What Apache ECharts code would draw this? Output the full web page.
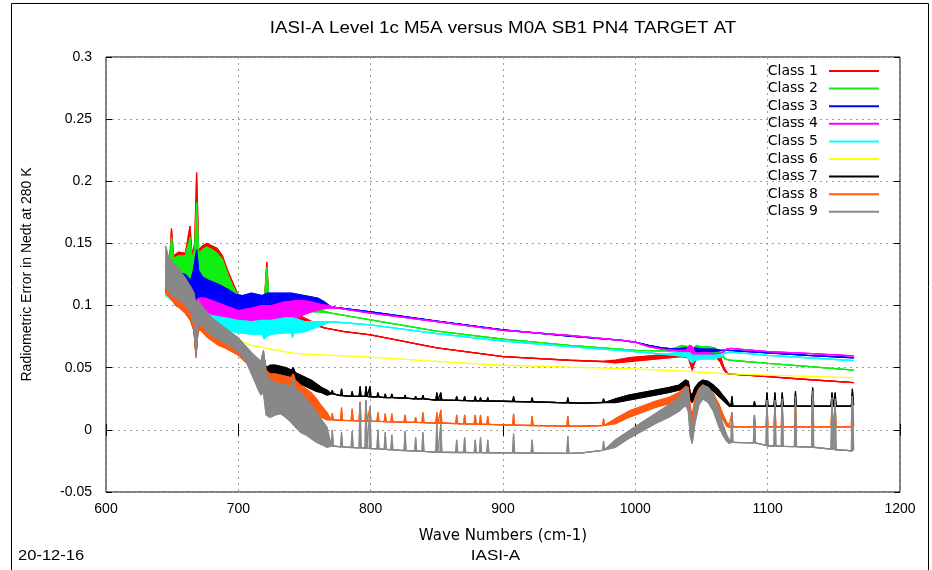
<!DOCTYPE html>
<html><head><meta charset="utf-8">
<script src="https://cdn.jsdelivr.net/npm/echarts@6/dist/echarts.min.js"></script>
<style>html,body{margin:0;padding:0;background:#fff;}#chart{width:932px;height:570px;}</style>
</head><body><div id="chart"></div>
<script>
const classNames = ['Class 1','Class 2','Class 3','Class 4','Class 5','Class 6','Class 7','Class 8','Class 9'];
const colors = ['#ff0000','#11ee11','#0000ff','#ff00ff','#00ffff','#ffff00','#000000','#ff5a10','#888888'];
const xTickValues = [600,700,800,900,1000,1100,1200];

// Class 1 (lower / upper edge of the noisy band)
const wn1 = [645,648,649.5,651,655,660,663.5,665,667,668.5,670,673,676,680,684,688,692,696,700,705,710,715,720,721.5,723,730,740,746,752,758,765,770,780,800,850,900,950,975,985,995,1005,1015,1025,1035,1040,1043,1046,1050,1055,1060,1064,1067,1070,1100,1130,1165];
const lo1 = [0.115,0.118,0.12,0.12,0.12,0.118,0.12,0.118,0.115,0.11,0.115,0.115,0.115,0.112,0.11,0.108,0.105,0.102,0.1,0.1,0.1,0.098,0.098,0.098,0.098,0.095,0.092,0.088,0.086,0.084,0.082,0.081,0.079,0.0764,0.066,0.059,0.056,0.055,0.054,0.055,0.056,0.057,0.058,0.059,0.058,0.048,0.058,0.06,0.06,0.059,0.055,0.048,0.045,0.0428,0.0405,0.038];
const hi1 = [0.13,0.135,0.162,0.14,0.143,0.142,0.164,0.14,0.15,0.207,0.145,0.148,0.15,0.148,0.146,0.14,0.128,0.118,0.108,0.106,0.105,0.105,0.108,0.135,0.106,0.104,0.1,0.092,0.089,0.086,0.082,0.081,0.079,0.0764,0.066,0.059,0.056,0.055,0.056,0.058,0.059,0.06,0.061,0.062,0.062,0.057,0.063,0.065,0.065,0.064,0.06,0.05,0.045,0.0428,0.0405,0.038];

// Class 2
const wn2 = [645,648,649.5,651,655,660,663.5,665,667,668.5,670,673,676,680,684,688,692,696,700,705,710,715,720,721.5,723,730,740,750,758,765,770,800,850,900,950,1000,1020,1030,1035,1040,1043,1046,1050,1055,1060,1064,1068,1072,1100,1130,1165];
const lo2 = [0.112,0.118,0.12,0.12,0.122,0.12,0.12,0.118,0.115,0.11,0.112,0.112,0.11,0.108,0.106,0.104,0.102,0.1,0.098,0.098,0.1,0.1,0.1,0.098,0.1,0.098,0.096,0.095,0.095,0.0945,0.094,0.0885,0.0795,0.073,0.068,0.064,0.0635,0.063,0.063,0.062,0.06,0.063,0.063,0.063,0.062,0.06,0.057,0.056,0.0535,0.051,0.048];
const hi2 = [0.128,0.135,0.155,0.138,0.14,0.14,0.155,0.138,0.145,0.183,0.142,0.145,0.147,0.145,0.142,0.137,0.125,0.115,0.107,0.106,0.107,0.108,0.108,0.131,0.107,0.106,0.104,0.1,0.097,0.0955,0.094,0.0885,0.0795,0.073,0.068,0.064,0.0635,0.066,0.068,0.067,0.064,0.068,0.067,0.067,0.066,0.063,0.057,0.056,0.0535,0.051,0.048];

// Class 3
const wn3 = [645,650,655,660,664,666,668.5,670,673,678,685,692,698,703,710,718,722,730,740,750,760,765,770,800,850,900,950,990,1000,1010,1020,1030,1038,1041,1043,1045,1050,1055,1060,1065,1070,1100,1130,1165];
const lo3 = [0.11,0.115,0.115,0.113,0.108,0.1,0.1,0.1,0.1,0.1,0.099,0.097,0.095,0.095,0.094,0.094,0.095,0.096,0.097,0.098,0.099,0.1,0.099,0.095,0.0875,0.0805,0.0755,0.072,0.0705,0.068,0.066,0.065,0.064,0.062,0.06,0.062,0.063,0.063,0.063,0.064,0.064,0.062,0.06,0.058];
const hi3 = [0.125,0.125,0.127,0.125,0.12,0.128,0.145,0.128,0.123,0.12,0.117,0.113,0.109,0.108,0.11,0.108,0.11,0.11,0.11,0.108,0.106,0.103,0.099,0.095,0.0875,0.0805,0.0755,0.072,0.0705,0.068,0.066,0.065,0.066,0.066,0.065,0.066,0.065,0.065,0.065,0.064,0.064,0.062,0.06,0.058];

// Class 4
const wn4 = [645,650,655,660,664,666,668.5,670,675,680,690,700,710,718,719.5,721,725,735,745,750,755,762,768,775,800,850,900,950,990,1000,1010,1020,1030,1038,1041,1043,1045,1050,1055,1060,1065,1069,1072,1100,1130,1165];
const lo4 = [0.112,0.11,0.108,0.102,0.098,0.095,0.092,0.095,0.094,0.092,0.09,0.087,0.087,0.088,0.075,0.08,0.088,0.088,0.09,0.093,0.095,0.097,0.098,0.098,0.094,0.087,0.08,0.076,0.072,0.0705,0.067,0.065,0.064,0.062,0.062,0.058,0.058,0.059,0.059,0.059,0.06,0.065,0.0655,0.063,0.0615,0.0595];
const hi4 = [0.122,0.118,0.115,0.112,0.11,0.105,0.104,0.106,0.106,0.104,0.1,0.096,0.098,0.1,0.1,0.1,0.1,0.103,0.104,0.104,0.103,0.101,0.1,0.098,0.094,0.087,0.08,0.076,0.072,0.0705,0.067,0.065,0.064,0.064,0.068,0.067,0.062,0.062,0.062,0.061,0.062,0.065,0.0655,0.063,0.0615,0.0595];

// Class 5
const wn5 = [645,650,655,660,665,668.5,670,675,680,690,700,710,718,719.5,721,725,735,740,741,742,750,758,765,770,800,850,900,950,1000,1010,1020,1030,1038,1041,1043,1045,1050,1055,1060,1065,1068,1072,1100,1130,1165];
const lo5 = [0.108,0.104,0.1,0.095,0.09,0.085,0.085,0.083,0.082,0.08,0.078,0.077,0.077,0.073,0.075,0.077,0.078,0.078,0.074,0.078,0.079,0.082,0.085,0.087,0.0845,0.0775,0.0715,0.067,0.063,0.062,0.061,0.06,0.059,0.056,0.054,0.056,0.057,0.057,0.057,0.059,0.062,0.0625,0.06,0.058,0.0557];
const hi5 = [0.118,0.114,0.11,0.105,0.1,0.1,0.097,0.094,0.092,0.09,0.088,0.087,0.088,0.088,0.088,0.088,0.09,0.09,0.09,0.09,0.087,0.087,0.087,0.087,0.0845,0.0775,0.0715,0.067,0.063,0.062,0.061,0.062,0.062,0.062,0.06,0.06,0.06,0.06,0.06,0.061,0.062,0.0625,0.06,0.058,0.0557];

// Class 6 (smooth)
const wn6 = [645,648,652,656,660,665,670,675,680,690,700,710,720,730,740,750,760,780,800,840,900,950,1000,1040,1070,1100,1130,1165];
const v6 = [0.12,0.116,0.11,0.105,0.1,0.093,0.086,0.083,0.08,0.076,0.072,0.068,0.066,0.064,0.062,0.061,0.0605,0.0595,0.0586,0.0557,0.052,0.0505,0.049,0.047,0.045,0.044,0.043,0.042];

// Classes 7-9 share one wave-number grid (absorption-line spikes)
const wnB = [645,647,650,653,656,660,664,666.5,668,669.5,672,676,680,685,690,695,700,705,710,714,717,719,721,724,728,732,736,740,741.5,743,747,751,755,759,763,767,
770.2,771,771.8,777.2,778,778.8,785.2,786,786.8,791.2,792,792.8,795.7,796.5,797.3,798.7,799.5,800.3,804.7,805.5,806.3,810.2,811,811.8,
815.2,816,816.8,825.2,826,826.8,833.2,834,834.8,838.7,839.5,840.3,849.2,850,850.8,852.2,853,853.8,864.2,865,865.8,870.2,871,871.8,
878.2,879,879.8,882.2,883,883.8,887.7,888.5,889.3,900,907.2,908,908.8,921.2,922,922.8,940,948.2,949,949.8,960,975.2,976,976.8,
985,995,1005,1015,1025,1033,1038,1040,1041.5,1043,1045,1048,1051,1055,1059,1063,1066,1069,1071,
1072.2,1073,1073.8,1080,1089.2,1090,1090.8,1098.7,1099.5,1100.3,1104.7,1105.5,1106.3,1110.2,1111,1111.8,1120.2,1121,1121.8,
1133.2,1134,1134.8,1147.8,1148.6,1149.4,1150.2,1151,1151.8,1160,1163.2,1164,1165];

const hi7 = [0.125,0.122,0.12,0.118,0.115,0.11,0.105,0.1,0.09,0.095,0.092,0.09,0.086,0.082,0.078,0.074,0.07,0.064,0.06,0.057,0.053,0.06,0.05,0.052,0.052,0.051,0.05,0.048,0.05,0.046,0.044,0.042,0.04,0.037,0.034,0.032,
0.029,0.032,0.029,0.0275,0.033,0.0275,0.027,0.031,0.027,0.027,0.035,0.027,0.027,0.035,0.027,0.0265,0.035,0.0265,0.0265,0.03,0.0265,0.026,0.029,0.026,
0.026,0.029,0.026,0.0255,0.028,0.0255,0.025,0.027,0.025,0.025,0.028,0.025,0.024,0.03,0.024,0.024,0.03,0.024,0.0238,0.027,0.0238,0.0236,0.027,0.0236,
0.0234,0.027,0.0234,0.0233,0.026,0.0233,0.0232,0.026,0.0232,0.023,0.0228,0.027,0.0228,0.0225,0.026,0.0225,0.022,0.0218,0.026,0.0218,0.0215,0.022,0.025,0.022,
0.025,0.028,0.03,0.032,0.034,0.036,0.04,0.039,0.03,0.028,0.034,0.038,0.04,0.039,0.036,0.032,0.028,0.024,0.021,
0.019,0.027,0.019,0.019,0.019,0.023,0.019,0.019,0.03,0.019,0.019,0.03,0.019,0.019,0.03,0.019,0.019,0.031,0.019,
0.019,0.034,0.019,0.019,0.03,0.019,0.019,0.03,0.019,0.019,0.019,0.033,0.02];
const lo7 = [0.112,0.108,0.105,0.1,0.098,0.094,0.088,0.08,0.06,0.08,0.08,0.076,0.072,0.07,0.067,0.064,0.061,0.057,0.055,0.051,0.047,0.045,0.045,0.045,0.045,0.044,0.043,0.041,0.04,0.039,0.037,0.035,0.033,0.031,0.03,0.028,
0.029,0.029,0.029,0.0275,0.0275,0.0275,0.027,0.027,0.027,0.027,0.027,0.027,0.027,0.027,0.027,0.0265,0.0265,0.0265,0.0265,0.0265,0.0265,0.026,0.026,0.026,
0.026,0.026,0.026,0.0255,0.0255,0.0255,0.025,0.025,0.025,0.025,0.025,0.025,0.024,0.024,0.024,0.024,0.024,0.024,0.0238,0.0238,0.0238,0.0236,0.0236,0.0236,
0.0234,0.0234,0.0234,0.0233,0.0233,0.0233,0.0232,0.0232,0.0232,0.023,0.0228,0.0228,0.0228,0.0225,0.0225,0.0225,0.022,0.0218,0.0218,0.0218,0.0215,0.022,0.022,0.022,
0.022,0.024,0.026,0.028,0.03,0.032,0.034,0.033,0.024,0.022,0.028,0.033,0.035,0.034,0.031,0.027,0.024,0.021,0.019,
0.019,0.019,0.019,0.019,0.019,0.019,0.019,0.019,0.019,0.019,0.019,0.019,0.019,0.019,0.019,0.019,0.019,0.019,0.019,
0.019,0.019,0.019,0.019,0.019,0.019,0.019,0.019,0.019,0.019,0.019,0.019,0.02];

const hi8 = [0.132,0.128,0.125,0.122,0.12,0.115,0.108,0.104,0.095,0.1,0.096,0.092,0.088,0.084,0.08,0.076,0.072,0.066,0.06,0.056,0.053,0.062,0.048,0.045,0.045,0.044,0.043,0.042,0.045,0.04,0.036,0.033,0.03,0.025,0.019,0.014,
0.008,0.0135,0.008,0.0077,0.018,0.0077,0.0074,0.017,0.0074,0.0072,0.0225,0.0072,0.0071,0.0225,0.0071,0.007,0.018,0.007,0.0068,0.014,0.0068,0.0066,0.013,0.0066,
0.0065,0.013,0.0065,0.0062,0.012,0.0062,0.006,0.01,0.006,0.0058,0.014,0.0058,0.0055,0.014,0.0055,0.0055,0.016,0.0055,0.005,0.012,0.005,0.0048,0.012,0.0048,
0.0046,0.012,0.0046,0.0045,0.012,0.0045,0.0044,0.011,0.0044,0.004,0.0038,0.013,0.0038,0.0035,0.011,0.0035,0.0032,0.003,0.011,0.003,0.003,0.0035,0.009,0.0037,
0.009,0.015,0.019,0.023,0.026,0.03,0.035,0.034,0.019,0.011,0.025,0.033,0.036,0.034,0.029,0.021,0.013,0.006,0.004,
0.0025,0.014,0.0025,0.0025,0.0025,0.012,0.0025,0.0025,0.02,0.0025,0.0025,0.02,0.0025,0.0025,0.02,0.0025,0.0025,0.021,0.0025,
0.0025,0.027,0.0025,0.0025,0.02,0.0025,0.0025,0.02,0.0025,0.0025,0.0025,0.027,0.003];
const lo8 = [0.11,0.108,0.104,0.1,0.098,0.094,0.088,0.08,0.058,0.08,0.08,0.075,0.072,0.068,0.066,0.063,0.06,0.055,0.05,0.044,0.04,0.04,0.035,0.034,0.033,0.032,0.031,0.028,0.028,0.026,0.026,0.022,0.019,0.014,0.01,0.008,
0.008,0.008,0.008,0.0077,0.0077,0.0077,0.0074,0.0074,0.0074,0.0072,0.0072,0.0072,0.0071,0.0071,0.0071,0.007,0.007,0.007,0.0068,0.0068,0.0068,0.0066,0.0066,0.0066,
0.0065,0.0065,0.0065,0.0062,0.0062,0.0062,0.006,0.006,0.006,0.0058,0.0058,0.0058,0.0055,0.0055,0.0055,0.0055,0.0055,0.0055,0.005,0.005,0.005,0.0048,0.0048,0.0048,
0.0046,0.0046,0.0046,0.0045,0.0045,0.0045,0.0044,0.0044,0.0044,0.004,0.0038,0.0038,0.0038,0.0035,0.0035,0.0035,0.0032,0.003,0.003,0.003,0.003,0.0035,0.0036,0.0037,
0.005,0.01,0.014,0.018,0.021,0.025,0.029,0.027,0.009,0.002,0.017,0.027,0.031,0.029,0.023,0.016,0.009,0.003,0.002,
0.0025,0.0025,0.0025,0.0025,0.0025,0.0025,0.0025,0.0025,0.0025,0.0025,0.0025,0.0025,0.0025,0.0025,0.0025,0.0025,0.0025,0.0025,0.0025,
0.0025,0.0025,0.0025,0.0025,0.0025,0.0025,0.0025,0.0025,0.0025,0.0025,0.0025,0.0025,0.003];

const hi9 = [0.148,0.14,0.135,0.132,0.128,0.122,0.115,0.11,0.1,0.105,0.1,0.095,0.09,0.086,0.082,0.078,0.074,0.068,0.062,0.058,0.055,0.064,0.045,0.04,0.038,0.037,0.036,0.035,0.042,0.033,0.03,0.025,0.02,0.014,0.008,0.002,
-0.013,0.0,-0.013,-0.0137,-0.002,-0.0137,-0.0142,-0.001,-0.0142,-0.0145,0.022,-0.0145,-0.0147,0.024,-0.0147,-0.015,0.019,-0.015,-0.0153,0.0,-0.0153,-0.0157,-0.002,-0.0157,
-0.016,-0.004,-0.016,-0.0167,-0.001,-0.0167,-0.017,-0.006,-0.017,-0.0173,-0.002,-0.0173,-0.018,0.005,-0.018,-0.018,0.005,-0.018,-0.0182,-0.008,-0.0182,-0.0182,-0.006,-0.0182,
-0.0183,-0.008,-0.0183,-0.0183,-0.006,-0.0183,-0.0184,-0.008,-0.0184,-0.0185,-0.0186,-0.003,-0.0186,-0.0187,-0.008,-0.0187,-0.0188,-0.019,-0.005,-0.019,-0.0185,-0.0165,-0.009,-0.016,
-0.008,-0.001,0.006,0.013,0.02,0.026,0.034,0.03,0.01,0.0,0.02,0.032,0.036,0.034,0.028,0.016,0.005,-0.004,-0.008,
-0.01,0.014,-0.01,-0.0102,-0.0105,0.012,-0.0105,-0.0125,0.024,-0.013,-0.013,0.024,-0.013,-0.0133,0.025,-0.0133,-0.0135,0.027,-0.0135,
-0.014,0.031,-0.014,-0.0155,0.026,-0.0155,-0.016,0.025,-0.016,-0.0165,-0.017,0.027,-0.016];
const lo9 = [0.115,0.112,0.108,0.106,0.104,0.1,0.095,0.085,0.06,0.085,0.085,0.08,0.076,0.073,0.07,0.067,0.063,0.057,0.045,0.035,0.028,0.03,0.012,0.01,0.012,0.013,0.01,0.006,0.004,0.003,-0.002,-0.004,-0.007,-0.01,-0.012,-0.014,
-0.013,-0.013,-0.013,-0.0137,-0.0137,-0.0137,-0.0142,-0.0142,-0.0142,-0.0145,-0.0145,-0.0145,-0.0147,-0.0147,-0.0147,-0.015,-0.015,-0.015,-0.0153,-0.0153,-0.0153,-0.0157,-0.0157,-0.0157,
-0.016,-0.016,-0.016,-0.0167,-0.0167,-0.0167,-0.017,-0.017,-0.017,-0.0173,-0.0173,-0.0173,-0.018,-0.018,-0.018,-0.018,-0.018,-0.018,-0.0182,-0.0182,-0.0182,-0.0182,-0.0182,-0.0182,
-0.0183,-0.0183,-0.0183,-0.0183,-0.0183,-0.0183,-0.0184,-0.0184,-0.0184,-0.0185,-0.0186,-0.0186,-0.0186,-0.0187,-0.0187,-0.0187,-0.0188,-0.019,-0.019,-0.019,-0.0185,-0.0165,-0.0163,-0.016,
-0.014,-0.007,-0.001,0.005,0.01,0.015,0.02,0.015,-0.005,-0.011,0.005,0.02,0.025,0.022,0.015,0.003,-0.004,-0.009,-0.011,
-0.01,-0.01,-0.01,-0.0102,-0.0105,-0.0105,-0.0105,-0.0125,-0.0128,-0.013,-0.013,-0.013,-0.013,-0.0133,-0.0133,-0.0133,-0.0135,-0.0135,-0.0135,
-0.014,-0.014,-0.014,-0.0155,-0.0155,-0.0155,-0.016,-0.016,-0.016,-0.0165,-0.017,-0.017,-0.016];

const classData = [
  {wn: wn1, lo: lo1, hi: hi1}, {wn: wn2, lo: lo2, hi: hi2}, {wn: wn3, lo: lo3, hi: hi3},
  {wn: wn4, lo: lo4, hi: hi4}, {wn: wn5, lo: lo5, hi: hi5}, {wn: wn6, lo: v6, hi: v6},
  {wn: wnB, lo: lo7, hi: hi7}, {wn: wnB, lo: lo8, hi: hi8}, {wn: wnB, lo: lo9, hi: hi9}
];

const FONT = 'Liberation Sans';
const WIDE = 'DejaVu Sans';
const series = [];
classData.forEach(function (c, k) {
  const name = classNames[k], color = colors[k];
  series.push({
    type: 'line', name: name, z: 10 + k, symbol: 'none', animation: false, silent: true,
    data: c.wn.map(function (x, i) { return [x, c.hi[i]]; }),
    lineStyle: { color: color, width: 1.3 }, itemStyle: { color: color }
  });
  if (c.lo !== c.hi) {
    series.push({
      type: 'line', name: name, z: 10 + k, symbol: 'none', animation: false, silent: true,
      data: c.wn.map(function (x, i) { return [x, c.lo[i]]; }),
      lineStyle: { color: color, width: 1.3 }, itemStyle: { color: color }
    });
    series.push({
      type: 'custom', name: name, z: 10 + k, silent: true, animation: false, clip: true,
      data: [[c.wn[0], c.lo[0]]],
      encode: { x: 0, y: 1 },
      renderItem: function (params, api) {
        const pts = [];
        for (let i = 0; i < c.wn.length; i++) pts.push(api.coord([c.wn[i], c.hi[i]]));
        for (let i = c.wn.length - 1; i >= 0; i--) pts.push(api.coord([c.wn[i], c.lo[i]]));
        return { type: 'polygon', shape: { points: pts }, style: { fill: color, stroke: color, lineWidth: 0.8 } };
      }
    });
  }
});

const chart = echarts.init(document.getElementById('chart'));
const gridLine = { show: true, lineStyle: { color: '#9a9a9a', type: [2, 4], width: 1 } };
const tickStyle = { show: true, inside: true, length: 6, lineStyle: { color: '#000' } };
chart.setOption({
  animation: false,
  backgroundColor: '#fff',
  grid: { left: 106, right: 32, top: 57, bottom: 78, show: true, borderColor: '#000', borderWidth: 1, backgroundColor: 'transparent' },
  graphic: [
    { type: 'rect', silent: true, shape: { x: 11.5, y: 3.5, width: 917, height: 620 }, style: { fill: 'none', stroke: '#000', lineWidth: 1 } },
    { type: 'text', silent: true, x: 503, y: 29, scaleX: 1.17, style: { text: 'IASI-A Level 1c M5A versus M0A SB1 PN4 TARGET AT', font: '16px "' + FONT + '"', fill: '#000', align: 'center', verticalAlign: 'middle' } },
    { type: 'text', silent: true, x: 18, y: 556, scaleX: 1.18, style: { text: '20-12-16', font: '14px "' + FONT + '"', fill: '#000', align: 'left', verticalAlign: 'middle' } },
    { type: 'text', silent: true, x: 495.5, y: 556, scaleX: 1.22, style: { text: 'IASI-A', font: '14px "' + FONT + '"', fill: '#000', align: 'center', verticalAlign: 'middle' } }
  ],
  legend: {
    data: classNames.map(function (n) { return { name: n, icon: 'rect' }; }),
    orient: 'vertical', right: 53, top: 64, align: 'right', padding: 0,
    itemWidth: 50, itemHeight: 2, itemGap: 3.6, selectedMode: false,
    textStyle: { fontFamily: WIDE, fontSize: 14, lineHeight: 14, color: '#000', padding: [0, 6, 0, 0] }
  },
  xAxis: [
    { type: 'value', min: 600, max: 1200, interval: 100, position: 'bottom',
      axisLine: { show: false }, axisTick: tickStyle,
      axisLabel: { fontFamily: FONT, fontSize: 14, color: '#000', margin: 10,
        formatter: function (v) { return xTickValues.indexOf(v) >= 0 ? String(v) : ''; } },
      splitLine: gridLine,
      name: 'Wave Numbers (cm-1)', nameLocation: 'middle', nameGap: 37,
      nameTextStyle: { fontFamily: WIDE, fontSize: 15, color: '#000' } },
    { type: 'value', min: 600, max: 1200, interval: 100, position: 'top',
      axisLine: { show: false }, axisTick: tickStyle,
      axisLabel: { show: false }, splitLine: { show: false } }
  ],
  yAxis: [
    { type: 'value', min: -0.05, max: 0.3, interval: 0.05, position: 'left',
      axisLine: { show: false }, axisTick: tickStyle,
      axisLabel: { fontFamily: FONT, fontSize: 14, color: '#000', margin: 14 },
      splitLine: gridLine,
      name: 'Radiometric Error in Nedt at 280 K', nameLocation: 'middle', nameGap: 72,
      nameTextStyle: { fontFamily: FONT, fontSize: 14, color: '#000' } },
    { type: 'value', min: -0.05, max: 0.3, interval: 0.05, position: 'right',
      axisLine: { show: false }, axisTick: tickStyle,
      axisLabel: { show: false }, splitLine: { show: false } }
  ],
  series: series
});
</script></body></html>
